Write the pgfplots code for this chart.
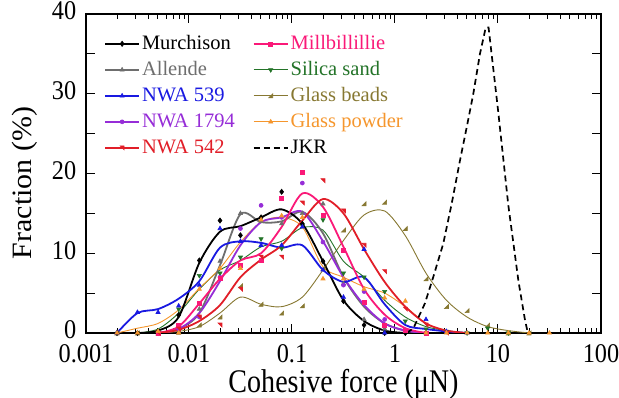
\documentclass[border=0pt]{standalone}
\usepackage{fontspec}
\setmainfont{Liberation Serif}
\newfontfamily\seriffont{Liberation Serif}
\newfontfamily\narrowfont[FakeStretch=0.85]{Liberation Serif}
\newfontfamily\ticfont[FakeStretch=0.9]{Liberation Serif}
\newfontfamily\widefont[FakeStretch=1.07]{Liberation Serif}
\usepackage{pgfplots}
\pgfplotsset{compat=1.18}
\definecolor{cgray}{RGB}{110,110,110}
\definecolor{cblue}{RGB}{25,25,225}
\definecolor{cpurple}{RGB}{150,45,215}
\definecolor{cred}{RGB}{225,30,40}
\definecolor{cpink}{RGB}{250,25,120}
\definecolor{cgreen}{RGB}{35,115,40}
\definecolor{colive}{RGB}{135,120,50}
\definecolor{corange}{RGB}{245,150,45}
\pgfdeclareplotmark{tribr}{%
  \pgfpathmoveto{\pgfqpoint{\pgfplotmarksize}{-\pgfplotmarksize}}%
  \pgfpathlineto{\pgfqpoint{\pgfplotmarksize}{\pgfplotmarksize}}%
  \pgfpathlineto{\pgfqpoint{-\pgfplotmarksize}{-\pgfplotmarksize}}%
  \pgfpathclose\pgfusepathqfillstroke}
\pgfdeclareplotmark{tritr}{%
  \pgfpathmoveto{\pgfqpoint{-\pgfplotmarksize}{\pgfplotmarksize}}%
  \pgfpathlineto{\pgfqpoint{\pgfplotmarksize}{\pgfplotmarksize}}%
  \pgfpathlineto{\pgfqpoint{\pgfplotmarksize}{-\pgfplotmarksize}}%
  \pgfpathclose\pgfusepathqfillstroke}
\pgfplotsset{
  sMur/.style={black, line width=1.8pt, mark=diamond*, mark size=2.6pt, mark options={solid, fill=black, line width=0.6pt}},
  sAll/.style={cgray, line width=1.8pt, mark=triangle*, mark size=2.4pt, mark options={solid, fill=cgray, line width=0.6pt}},
  sN539/.style={cblue, line width=1.8pt, mark=triangle*, mark size=2.4pt, mark options={solid, fill=cblue, line width=0.6pt}},
  sN1794/.style={cpurple, line width=1.8pt, mark=*, mark size=2.0pt, mark options={solid, fill=cpurple, line width=0.6pt}},
  sN542/.style={cred, line width=1.8pt, mark=tritr, mark size=2.0pt, mark options={solid, fill=cred, line width=0.6pt}},
  sMil/.style={cpink, line width=1.8pt, mark=square*, mark size=2.0pt, mark options={solid, fill=cpink, line width=0.6pt}},
  sSil/.style={cgreen, line width=0.9pt, mark=triangle*, mark size=2.4pt, mark options={solid, fill=cgreen, rotate=180, line width=0.6pt}},
  sBea/.style={colive, line width=0.9pt, mark=tribr, mark size=2.0pt, mark options={solid, fill=colive, line width=0.6pt}},
  sPow/.style={corange, line width=0.9pt, mark=triangle*, mark size=2.4pt, mark options={solid, fill=corange, line width=0.6pt}},
  sJKR/.style={black, line width=1.7pt, dash pattern=on 6pt off 4pt},
}
\begin{document}
\begin{tikzpicture}
\begin{axis}[
  xmode=log, xmin=0.001, xmax=100, ymin=0, ymax=40,
  scale only axis, width=515pt, height=319pt,
  xtick={0.001,0.01,0.1,1,10,100},
  xticklabels={0.001,0.01,0.1,1,10,100},
  ytick={0,10,20,30,40},
  extra y ticks={5,15,25,35}, extra y tick labels={},
  tick align=inside, xtick pos=both, ytick pos=both,
  major tick length=9pt, minor tick length=5pt,
  axis line style={line width=1.3pt},
  every tick/.style={line width=1pt, black},
  /pgf/number format/assume math mode=true,
  every tick label/.append style={font=\ticfont\fontsize{27}{28}\selectfont, inner sep=0.5pt},
  every x tick label/.append style={yshift=-11pt},
  every y tick label/.append style={xshift=-9pt, yshift=3pt, text depth=0pt},
  xlabel={Cohesive force (μN)}, ylabel={Fraction (\%)},
  xlabel style={font=\narrowfont\fontsize{33}{36}\selectfont, at={(axis description cs:0.5,-0.186)}, anchor=base, inner sep=0.5pt},
  ylabel style={font=\widefont\fontsize{28}{30}\selectfont, at={(axis description cs:-0.118,0.47)}, anchor=center},
  legend columns=2,
  legend cell align=left,
  legend image code/.code={\draw[mark repeat=2,mark phase=2,#1] plot coordinates {(0pt,0pt) (17pt,0pt) (34pt,0pt)};},
  legend style={at={(rel axis cs:0.035,0.94)}, anchor=north west, draw=none, fill=none, inner sep=0pt,
    font=\seriffont\fontsize{20.5}{24}\selectfont, row sep=5pt,
    /tikz/every even column/.append style={column sep=16pt},
    nodes={inner ysep=1pt, text height=15pt, text depth=4pt}},
]
\coordinate (sw) at (rel axis cs:0,0);
\addlegendimage{sMur}\addlegendentry[text=black]{Murchison}
\addlegendimage{sMil}\addlegendentry[text=cpink]{Millbillillie}
\addlegendimage{sAll}\addlegendentry[text=cgray]{Allende}
\addlegendimage{sSil}\addlegendentry[text=cgreen]{Silica sand}
\addlegendimage{sN539}\addlegendentry[text=cblue]{NWA 539}
\addlegendimage{sBea}\addlegendentry[text=colive]{Glass beads}
\addlegendimage{sN1794}\addlegendentry[text=cpurple]{NWA 1794}
\addlegendimage{sPow}\addlegendentry[text=corange]{Glass powder}
\addlegendimage{sN542}\addlegendentry[text=cred]{NWA 542}
\addlegendimage{sJKR}\addlegendentry[text=black]{JKR}

% ---- thin curves ----
\addplot[sBea, no markers, smooth, forget plot] coordinates {(0.00501,0) (0.00794,0.2) (0.0126,0.8) (0.02,2.5) (0.0316,4.5) (0.0501,3.6) (0.0794,3.3) (0.126,4.5) (0.2,7.9) (0.316,11.6) (0.501,14.8) (0.794,15.3) (1.26,12.2) (2.0,7.5) (3.16,4.1) (5.01,2.0) (7.94,0.8) (12.6,0.3) (20,0)};
\addplot[sSil, no markers, smooth, forget plot] coordinates {(0.00316,0) (0.00501,0.5) (0.00794,2.5) (0.0126,5.5) (0.02,7.9) (0.0316,9.1) (0.0501,10.8) (0.0794,11.5) (0.126,13.2) (0.2,12.9) (0.316,9.0) (0.501,7.0) (0.794,4.1) (1.26,2.0) (2.0,0.8) (3.16,0.3) (5.01,0)};
\addplot[sPow, no markers, smooth, forget plot] coordinates {(0.002,0) (0.00316,0.6) (0.00501,1.2) (0.00794,2.9) (0.0126,5.6) (0.02,8.1) (0.0316,11.4) (0.0501,13.9) (0.0794,14.5) (0.126,13.3) (0.2,8.3) (0.316,7.0) (0.501,5.8) (0.794,5.0) (1.26,3.3) (2.0,1.2) (3.16,0.3) (5.01,0)};
% ---- thick curves ----
\addplot[sAll, no markers, smooth, forget plot] coordinates {(0.00501,0) (0.00794,0.5) (0.0126,2.5) (0.02,8.5) (0.0316,14.9) (0.0501,13.9) (0.0794,14.0) (0.126,15.2) (0.2,12.5) (0.316,7.0) (0.501,3.3) (0.794,1.2) (1.26,0.3) (2.0,0)};
\addplot[sN1794, no markers, smooth, forget plot] coordinates {(0.00501,0) (0.00794,0.5) (0.0126,2.5) (0.02,6.5) (0.0316,11.0) (0.0501,13.9) (0.0794,14.5) (0.126,15.2) (0.2,11.5) (0.316,7.0) (0.501,3.5) (0.794,1.2) (1.26,0.3) (2.0,0)};
\addplot[sMur, no markers, smooth, forget plot] coordinates {(0.00316,0) (0.00501,0.3) (0.00794,2.0) (0.0126,8.8) (0.02,12.7) (0.0316,13.4) (0.0501,14.5) (0.0794,15.5) (0.126,13.7) (0.2,9.0) (0.316,4.1) (0.501,1.5) (0.794,0.3) (1.26,0)};
\addplot[sN539, no markers, smooth, forget plot] coordinates {(0.002,0) (0.00316,2.5) (0.00501,3.0) (0.00794,4.3) (0.0126,6.5) (0.02,10.7) (0.0316,11.5) (0.0501,11.3) (0.0794,10.7) (0.126,11.0) (0.2,7.9) (0.316,6.4) (0.501,7.0) (0.794,3.6) (1.26,1.0) (2.0,0.5) (3.16,0.2) (5.01,0)};
\addplot[sMil, no markers, smooth, forget plot] coordinates {(0.00501,0) (0.00794,0.8) (0.0126,3.7) (0.02,6.8) (0.0316,9.1) (0.0501,10.0) (0.0794,13.3) (0.126,17.5) (0.2,15.8) (0.316,10.8) (0.501,5.5) (0.794,2.3) (1.26,0.6) (2.0,0)};
\addplot[sN542, no markers, smooth, forget plot] coordinates {(0.00501,0) (0.00794,0.4) (0.0126,1.5) (0.02,3.5) (0.0316,7.0) (0.0501,9.2) (0.0794,11.0) (0.126,14.1) (0.2,16.8) (0.316,15.0) (0.501,10.5) (0.794,6.4) (1.26,3.3) (2.0,1.2) (3.16,0.3) (5.01,0)};
\addplot[sJKR, no markers, forget plot] coordinates {(1.3,0) (1.51,0.6) (1.95,3.7) (2.35,7.0) (2.94,11.2) (3.55,16.2) (4.27,21.6) (4.97,25.8) (5.76,30) (6.68,35) (7.6,38.3) (8.1,38.3) (10.0,28) (12.6,16) (15.8,6.5) (18.3,1.6) (19.5,0)};
% ---- markers ----
\addplot[sBea, only marks, forget plot] coordinates {(0.002,0) (0.00316,0) (0.00501,0) (0.00794,0.1) (0.0126,1.0) (0.02,2.0) (0.0316,5.9) (0.0501,3.6) (0.0794,2.5) (0.126,3.4) (0.2,8.1) (0.316,12.9) (0.501,16.2) (0.794,16.4) (1.26,13.1) (2.0,6.8) (3.16,3.3) (5.01,2.8) (7.94,1.0) (12.6,0) (20,0)};
\addplot[sSil, only marks, forget plot] coordinates {(0.00501,0) (0.00794,3.0) (0.0126,7.2) (0.02,7.5) (0.0316,9.5) (0.0501,11.8) (0.0794,10.6) (0.126,13.5) (0.2,14.2) (0.316,7.5) (0.501,7.0) (0.794,5.2) (1.26,1.5) (2.0,0.5) (3.16,0.2) (5.01,0) (7.94,0.6) (12.6,0)};
\addplot[sAll, only marks, forget plot] coordinates {(0.002,0) (0.00316,0) (0.00501,0) (0.00794,0) (0.0126,3.0) (0.02,9.0) (0.0316,15.0) (0.0501,14.0) (0.0794,13.7) (0.126,15.0) (0.2,16.2) (0.316,6.2) (0.501,1.7) (0.794,0.5) (1.26,0.2) (2.0,0)};
\addplot[sN1794, only marks, forget plot] coordinates {(0.00794,0.5) (0.0126,2.0) (0.02,7.0) (0.0316,13.1) (0.0501,16.0) (0.0794,14.5) (0.126,18.8) (0.2,11.4) (0.316,6.0) (0.501,5.2) (0.794,1.7) (1.26,0.2) (2.0,0)};
\addplot[sMur, only marks, forget plot] coordinates {(0.002,0) (0.00316,0) (0.00501,0) (0.00794,2.25) (0.0126,9.1) (0.02,14.1) (0.0316,12.25) (0.0501,14.5) (0.0794,17.7) (0.126,13.7) (0.2,9.0) (0.316,4.0) (0.501,1.0) (0.794,0) (1.26,0)};
\addplot[sN539, only marks, forget plot] coordinates {(0.002,0) (0.00316,2.6) (0.00501,2.6) (0.00794,3.4) (0.0126,6.0) (0.02,13.1) (0.0316,11.5) (0.0501,11.0) (0.0794,11.0) (0.126,13.3) (0.2,7.9) (0.316,4.5) (0.501,10.5) (0.794,0) (1.26,0.3) (2.0,1.7) (3.16,0.2) (5.01,0)};
\addplot[sMil, only marks, forget plot] coordinates {(0.00501,0) (0.00794,1.0) (0.0126,3.7) (0.02,6.8) (0.0316,8.5) (0.0501,9.1) (0.0794,16.9) (0.126,20.2) (0.2,14.8) (0.316,10.4) (0.501,3.9) (0.794,1.0) (1.26,0.3) (2.0,0)};
\addplot[sN542, only marks, forget plot] coordinates {(0.00501,0) (0.00794,0.5) (0.0126,2.0) (0.02,1.0) (0.0316,5.5) (0.0501,9.5) (0.0794,9.5) (0.126,16.3) (0.2,19.1) (0.316,15.3) (0.501,11.0) (0.794,7.7) (1.26,3.0) (2.0,1.0) (3.16,0)};
\addplot[sPow, only marks, forget plot] coordinates {(0.002,0) (0.00316,0) (0.00501,0.2) (0.00794,0) (0.0126,5.5) (0.02,8.1) (0.0316,8.1) (0.0501,14.2) (0.0794,14.7) (0.126,14.5) (0.2,6.8) (0.316,6.8) (0.501,5.5) (0.794,4.4) (1.26,4.0) (2.0,0) (3.16,0) (5.01,0) (7.94,0) (12.6,0) (20,0) (31.6,0)};
\end{axis}
\pgfresetboundingbox
\path[use as bounding box] (sw) ++(-86pt,-65pt) rectangle ++(619pt,398pt);
\end{tikzpicture}
\end{document}
